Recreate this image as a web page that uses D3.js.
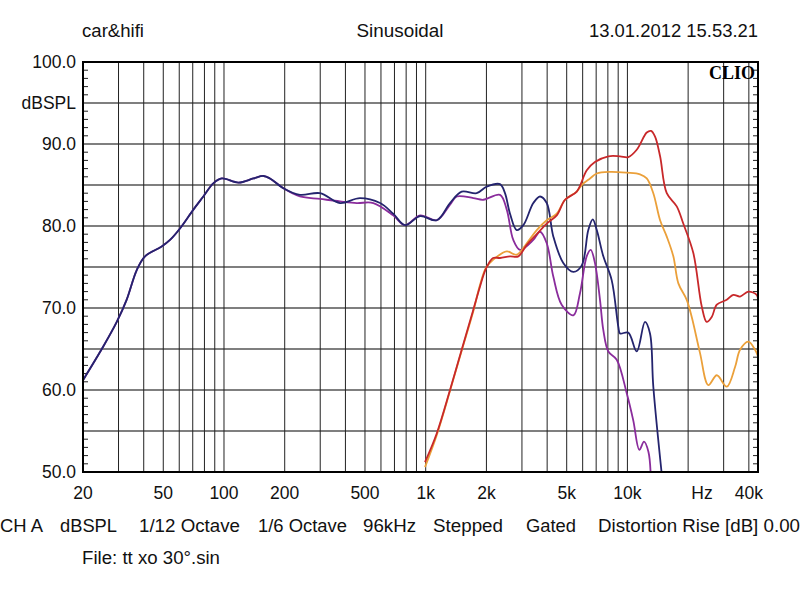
<!DOCTYPE html>
<html><head><meta charset="utf-8">
<script src="https://cdn.jsdelivr.net/npm/d3@7"></script>
<style>html,body{margin:0;padding:0;background:#fff;}svg{display:block;}</style>
</head><body>
<script>
// ---- data ----
const navyFreq = [20,25.2,29.4,32.9,36.9,40.6,49.1,54,60.5,70.5,79,88.5,97.5,118,140,157,169,197,238,299,376,472,594,690,790,938,1134,1320,1508,1790,2007,2335,2472,2618,2825,3048,3416,3688,3981,4294,4808,5396,5938,6398,6730,7048,7596,8356,9016,9192,10100,11120,12220,12940,13440,14790];
const navyDb   = [61.2,65.3,68.3,71.0,74.6,76.3,77.5,78.3,79.7,82.0,83.6,85.2,85.8,85.3,85.8,86.1,85.8,84.6,83.8,84.0,82.8,83.4,82.8,81.5,80.1,81.2,80.7,82.8,84.2,84.0,84.8,85.1,84.0,81.5,79.5,80.1,82.8,83.6,82.8,78.7,75.5,74.4,75.2,79.5,80.8,79.5,76.3,73.4,67.7,66.9,67.0,64.7,68.3,66.9,60.4,49.8];
const purpleFreq = [20,25.2,29.4,32.9,36.9,40.6,49.1,54,60.5,70.5,79,88.5,97.5,118,140,157,169,197,238,299,376,455,550,690,790,938,1134,1320,1426,1722,1930,2335,2522,2718,2936,3416,3688,3981,4294,4720,5396,5820,6280,6578,6902,7312,7596,8044,8852,9924,10690,11460,12080,12700,13050];
const purpleDb   = [61.2,65.3,68.3,71.0,74.6,76.3,77.5,78.3,79.7,82.0,83.6,85.2,85.8,85.3,85.8,86.1,85.8,84.6,83.6,83.3,83.0,82.8,82.8,81.3,80.1,81.3,80.7,82.6,83.6,83.4,83.2,83.8,82.0,78.3,77.1,78.3,79.3,77.9,73.8,70.4,69.1,71.8,76.3,77.1,75.5,71.0,67.3,64.7,63.7,59.6,56.3,52.7,53.7,52.5,49.6];
const redFreq = [992,1134,1320,1508,1722,1858,1990,2157,2335,2618,2878,3170,3552,3981,4462,4906,5608,6288,6902,8044,9192,10100,11120,12470,13090,13710,14520,15670,17560,18920,21220,23360,24720,26180,27740,31080,33500,36180,39760,43760,44400];
const redDb   = [51.2,54.7,60.0,64.9,69.8,72.6,74.8,76.1,76.1,76.3,76.3,77.7,79.0,80.3,81.3,83.2,84.2,86.8,87.8,88.5,88.5,88.4,89.3,91.4,91.6,90.9,88.5,84.0,82.4,80.3,76.7,70.2,68.3,68.9,70.4,71.0,71.6,71.4,72.0,71.6,71.0];
const orangeFreq = [992,1134,1320,1508,1722,1858,1990,2164,2522,2825,3170,3552,3981,4462,4906,5608,5938,6526,7048,8200,9924,11550,12470,13440,14520,15670,16890,17890,19680,20840,22910,25200,27740,31080,34170,36180,39760,42940,44400];
const orangeDb   = [50.6,54.5,59.9,64.8,69.6,72.8,74.9,75.9,76.9,76.5,77.9,79.5,80.7,81.5,83.2,84.2,85.0,85.8,86.4,86.6,86.5,86.3,85.8,84.0,80.7,78.7,76.3,73.0,71.0,68.9,64.5,60.6,61.8,60.4,62.8,64.9,65.9,64.9,64.1];

const xTickVals = [20,50,100,200,500,1000,2000,5000,10000,40000];
const xTickLabels = ["20","50","100","200","500","1k","2k","5k","10k","40k"];
const yTickVals = [100,90,80,70,60,50];
const yTickLabels = ["100.0","90.0","80.0","70.0","60.0","50.0"];
const headerTexts = ["car&hifi","Sinusoidal","13.01.2012 15.53.21"];
const footerTexts = ["CH A","dBSPL","1/12 Octave","1/6 Octave","96kHz","Stepped","Gated","Distortion Rise [dB] 0.00"];
const fileText = "File: tt xo 30°.sin";

// ---- layout ----
const W = 800, H = 595;
const L = 83, R = 758, T = 62, B = 472;
const x = d3.scaleLog().domain([20, 44400]).range([L, R]);
const y = d3.scaleLinear().domain([50, 100]).range([B, T]);

const svg = d3.select("body").append("svg").attr("width", W).attr("height", H);
const font = "'Liberation Sans', Arial, sans-serif";
const FS = 17.5;

svg.append("defs").append("clipPath").attr("id","clip")
  .append("rect").attr("x",L).attr("y",T).attr("width",R-L).attr("height",B-T);

// horizontal grid every 5 dB
const hg = d3.range(55, 100, 5);
svg.append("g").selectAll("line").data(hg).join("line")
  .attr("x1",L).attr("x2",R).attr("y1",d=>y(d)).attr("y2",d=>y(d))
  .attr("stroke","#555").attr("stroke-width",1.3);

// vertical grid
const vg = [];
[10,100,1000,10000].forEach(p=>{ for(let k=1;k<10;k++){ const f=k*p; if(f>20 && f<44400) vg.push(f);} });
svg.append("g").selectAll("line").data(vg).join("line")
  .attr("x1",d=>x(d)).attr("x2",d=>x(d)).attr("y1",T).attr("y2",B)
  .attr("stroke","#222").attr("stroke-width",1);

// minor ticks each dB
const mt = d3.range(51, 100, 1).filter(d=>d%5!==0);
svg.append("g").selectAll("line").data(mt).join("line")
  .attr("x1",L).attr("x2",L+5).attr("y1",d=>y(d)).attr("y2",d=>y(d))
  .attr("stroke","#222").attr("stroke-width",1);
svg.append("g").selectAll("line").data(mt).join("line")
  .attr("x1",R-5).attr("x2",R).attr("y1",d=>y(d)).attr("y2",d=>y(d))
  .attr("stroke","#222").attr("stroke-width",1);

// curves
const series = [
  {f:navyFreq, d:navyDb, c:"#24246e"},
  {f:purpleFreq, d:purpleDb, c:"#8a2c9c"},
  {f:orangeFreq, d:orangeDb, c:"#eba03a"},
  {f:redFreq, d:redDb, c:"#c8282a"}
];
const order = [series[1], series[0], series[2], series[3]];
const line = d3.line().x(p=>x(p[0])).y(p=>y(p[1])).curve(d3.curveCatmullRom.alpha(0.5));
const cg = svg.append("g").attr("clip-path","url(#clip)");
order.forEach(s=>{
  cg.append("path").datum(s.f.map((f,i)=>[f,s.d[i]]))
    .attr("d",line).attr("fill","none").attr("stroke",s.c).attr("stroke-width",1.8)
    .attr("stroke-linejoin","round");
});

// frame
svg.append("rect").attr("x",L).attr("y",T).attr("width",R-L).attr("height",B-T)
  .attr("fill","none").attr("stroke","#000").attr("stroke-width",2);

function txt(xp, yp, s, anchor, len){
  const t = svg.append("text").attr("x",xp).attr("y",yp).attr("text-anchor",anchor||"start")
    .attr("font-family",font).attr("font-size",FS).attr("fill","#111").text(s);
  if(len){ t.attr("textLength",len).attr("lengthAdjust","spacingAndGlyphs"); }
  return t;
}

// y labels
yTickVals.forEach((v,i)=>txt(76, y(v)+6, yTickLabels[i], "end"));
txt(76, y(95)+6, "dBSPL", "end");

// x labels
xTickVals.forEach((v,i)=>txt(x(v), 499, xTickLabels[i], "middle"));
txt(702, 499, "Hz", "middle");

// header
txt(82, 37, headerTexts[0], "start", 62);
txt(400, 37, headerTexts[1], "middle", 87);
txt(758, 37, headerTexts[2], "end", 169);

// CLIO
svg.append("text").attr("x",755).attr("y",79).attr("text-anchor","end")
  .attr("font-family","'Liberation Serif','Times New Roman',serif").attr("font-weight","bold")
  .attr("font-size",18).attr("fill","#000").text("CLIO");

// footer
const footX = [0,60,139,258,363,433,526,598];
const footLen = [43,57,101,89,53,70,50,202];
footerTexts.forEach((s,i)=>txt(footX[i], 532, s, "start", footLen[i]));
txt(82, 564, fileText, "start", 138);
</script>
</body></html>
